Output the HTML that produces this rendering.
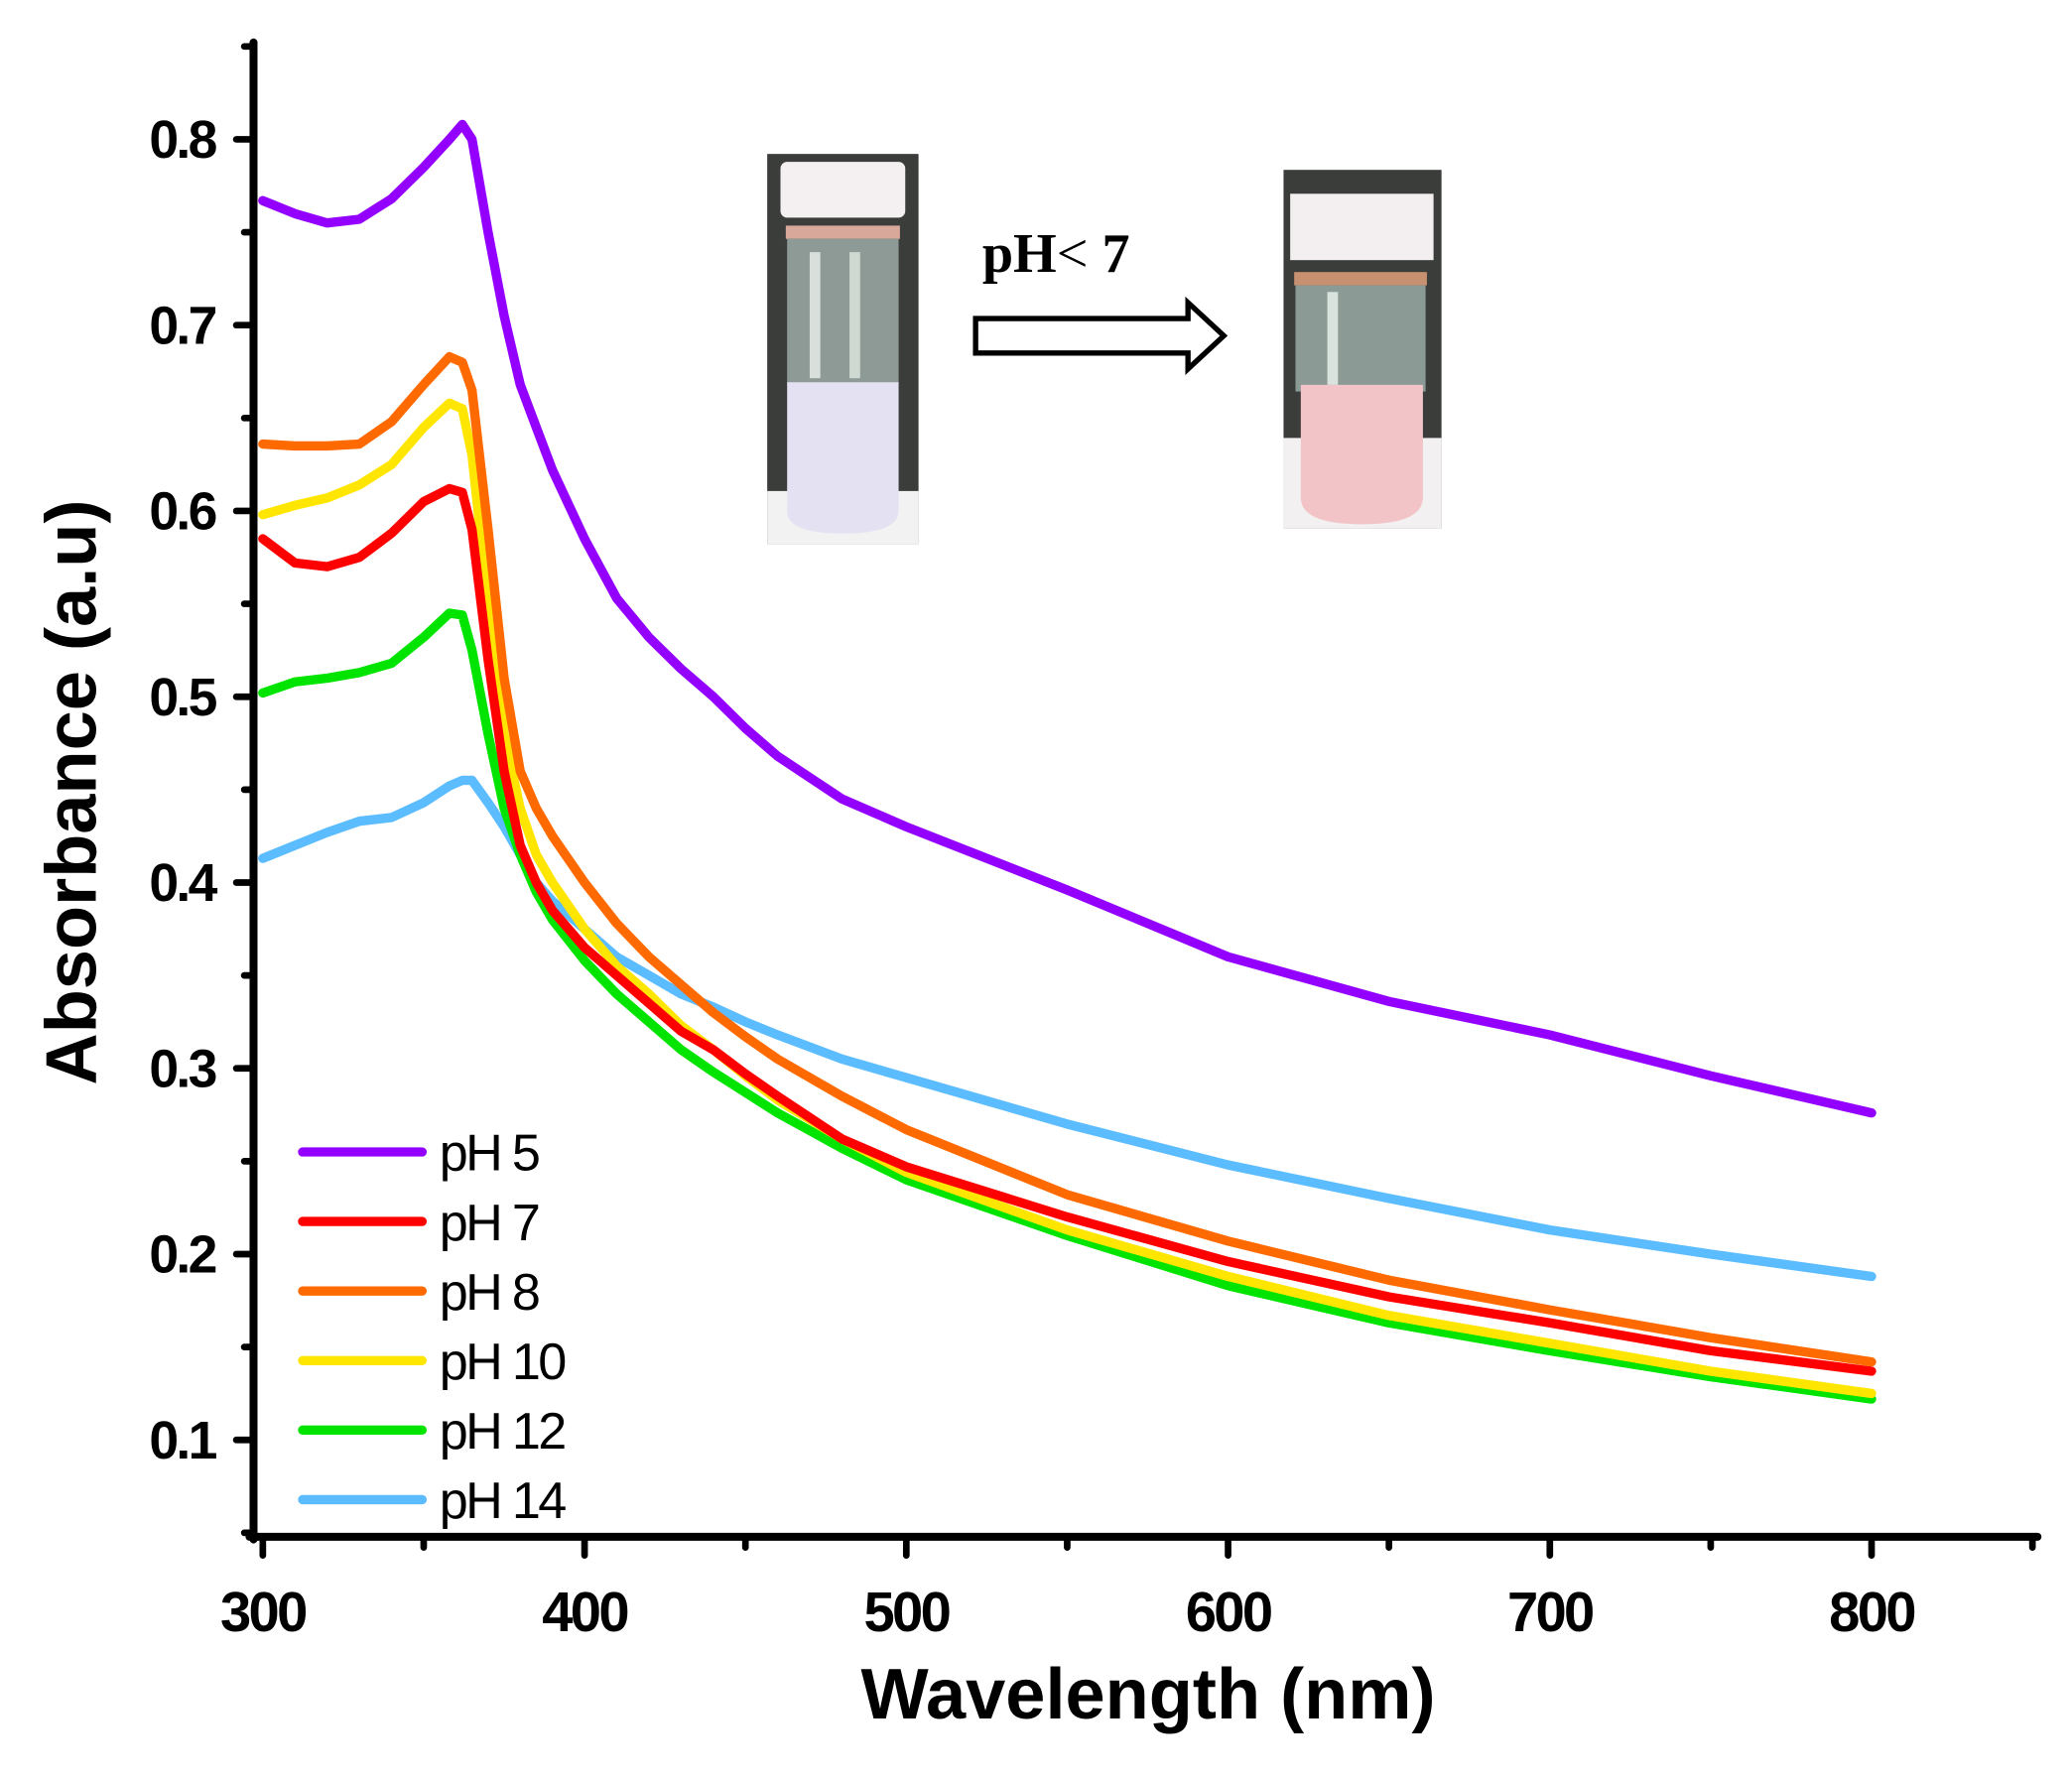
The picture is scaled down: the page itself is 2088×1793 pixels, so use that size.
<!DOCTYPE html>
<html><head><meta charset="utf-8"><style>
html,body{margin:0;padding:0;background:#fff}
svg{display:block}
</style></head><body>
<svg id="chart" width="2088" height="1793" viewBox="0 0 1561 1340.5" preserveAspectRatio="none" xmlns="http://www.w3.org/2000/svg">
<rect width="1561" height="1341" fill="#fff"/>
<g id="inset">
  <g>
    <rect x="578" y="116" width="114" height="294" fill="#3a3d3a"/>
    <rect x="578" y="370" width="114" height="40" fill="#f2f2f2"/>
    <rect x="588" y="122" width="94" height="42" rx="5" fill="#f4f0f2"/>
    <rect x="592" y="170" width="86" height="10" fill="#d8a89a"/>
    <rect x="593" y="180" width="84" height="110" fill="#8e9a96"/>
    <rect x="610" y="190" width="8" height="95" fill="#d9e0dc"/>
    <rect x="640" y="190" width="8" height="95" fill="#d0d8d2"/>
    <path d="M593 288 H677 V385 Q677 402 635 402 Q593 402 593 385 Z" fill="#e4e2f2"/>
  </g>
  <g>
    <rect x="967" y="128" width="119" height="270" fill="#3a3d3a"/>
    <rect x="967" y="330" width="119" height="68" fill="#f2f0f0"/>
    <rect x="972" y="146" width="108" height="50" fill="#f3eff1"/>
    <rect x="975" y="205" width="100" height="10" fill="#c79070"/>
    <rect x="976" y="215" width="98" height="80" fill="#8c9a96"/>
    <rect x="1000" y="220" width="8" height="70" fill="#d9e2dc"/>
    <path d="M980 290 H1072 V375 Q1072 395 1026 395 Q980 395 980 375 Z" fill="#f2c4c8"/>
  </g>
  <text x="740" y="205" font-family="'Liberation Serif',serif" font-weight="bold" font-size="42">pH<tspan font-weight="normal">&lt;</tspan>  7</text>
  <path d="M735 240 H895 V228 L922 253 L895 278 V266 H735 Z" fill="#fff" stroke="#000" stroke-width="4"/>
</g>
<g id="axes"></g>
<g id="series"></g>
<g id="legend"></g>
<text x="865" y="1295" text-anchor="middle" font-family="'Liberation Sans',sans-serif" font-weight="bold" font-size="54">Wavelength (nm)</text>
<text transform="translate(72,597) rotate(-90)" text-anchor="middle" font-family="'Liberation Sans',sans-serif" font-weight="bold" font-size="54">Absorbance (a.u)</text>
</svg>
<script>
const wavelengths=[300,310,320,330,340,350,358,362,365,370,375,380,385,390,400,410,420,430,440,450,460,480,500,550,600,650,700,750,800];
const seriesNames=["pH 5","pH 7","pH 8","pH 10","pH 12","pH 14"];
const seriesColors=["#9400ff","#ff0000","#ff6a00","#ffe600","#00e400","#5bbcff"];
const pH5=[0.767,0.760,0.755,0.757,0.768,0.785,0.800,0.808,0.800,0.750,0.705,0.668,0.645,0.622,0.585,0.553,0.532,0.515,0.500,0.483,0.468,0.445,0.430,0.396,0.360,0.336,0.318,0.296,0.276];
const pH7=[0.585,0.572,0.570,0.575,0.588,0.605,0.612,0.610,0.590,0.520,0.460,0.420,0.400,0.385,0.365,0.350,0.335,0.320,0.310,0.297,0.285,0.262,0.247,0.220,0.196,0.177,0.163,0.148,0.137];
const pH8=[0.636,0.635,0.635,0.636,0.648,0.668,0.683,0.680,0.665,0.590,0.510,0.460,0.440,0.425,0.400,0.378,0.360,0.345,0.330,0.317,0.305,0.285,0.267,0.232,0.207,0.186,0.170,0.155,0.142];
const pH10=[0.598,0.603,0.607,0.614,0.625,0.645,0.658,0.655,0.630,0.550,0.480,0.440,0.415,0.400,0.375,0.355,0.340,0.323,0.310,0.296,0.283,0.262,0.244,0.213,0.188,0.167,0.152,0.137,0.125];
const pH12=[0.502,0.508,0.510,0.513,0.518,0.532,0.545,0.544,0.525,0.480,0.440,0.415,0.395,0.380,0.358,0.340,0.325,0.310,0.298,0.287,0.276,0.257,0.240,0.210,0.183,0.163,0.148,0.134,0.122];
const pH14=[0.413,0.420,0.427,0.433,0.435,0.443,0.452,0.455,0.455,0.443,0.430,0.415,0.400,0.390,0.375,0.360,0.350,0.340,0.333,0.325,0.318,0.305,0.295,0.270,0.248,0.230,0.213,0.200,0.188];
const allSeries=[pH5,pH7,pH8,pH10,pH12,pH14];
const xTickLabels=["300","400","500","600","700","800"];
const yTickLabels=["0.1","0.2","0.3","0.4","0.5","0.6","0.7","0.8"];

const NS="http://www.w3.org/2000/svg";
const xs=v=>198+(v-300)*(1410-198)/500;
const ys=v=>105+(0.8-v)*1400;
function mk(tag,attrs,parent){const e=document.createElementNS(NS,tag);for(const k in attrs)e.setAttribute(k,attrs[k]);parent.appendChild(e);return e;}
const axes=document.getElementById('axes');
let e=mk('line',{x1:191,y1:32,x2:191,y2:1160,stroke:'#000','stroke-width':6,'stroke-linecap':'round'},axes);


e=mk('line',{x1:188,y1:1158,x2:1535,y2:1158,stroke:'#000','stroke-width':6,'stroke-linecap':'round'},axes);


for(let v=0.05;v<=0.86;v+=0.05){
  const major=Math.abs(v*10-Math.round(v*10))<1e-6;
  const y=ys(v);
  e=mk('line',{x1:major?178:184,y1:y,x2:191,y2:y,stroke:'#000','stroke-width':5,'stroke-linecap':'round'},axes);
  
  
}
yTickLabels.forEach(t=>{
  e=mk('text',{x:162,y:ys(parseFloat(t))+14,'text-anchor':'end','font-family':"'Liberation Sans',sans-serif",'font-weight':'bold','font-size':40,'letter-spacing':'-2'},axes);
  e.textContent=t;
  
  
});
for(let v=300;v<=850;v+=50){
  const major=v%100===0;
  const x=xs(v);
  e=mk('line',{x1:x,y1:1158,x2:x,y2:major?1172:1166,stroke:'#000','stroke-width':5,'stroke-linecap':'round'},axes);
  
  
}
xTickLabels.forEach(t=>{
  e=mk('text',{x:xs(parseFloat(t)),y:1229,'text-anchor':'middle','font-family':"'Liberation Sans',sans-serif",'font-weight':'bold','font-size':42,'letter-spacing':'-2'},axes);
  e.textContent=t;
  
  
});
const sg=document.getElementById('series');
const order=[5,4,3,1,2,0];
order.forEach(i=>{
  const pts=wavelengths.map((w,j)=>xs(w).toFixed(1)+','+ys(allSeries[i][j]).toFixed(1)).join(' ');
  const p=mk('polyline',{points:pts,fill:'none',stroke:seriesColors[i],'stroke-width':7,'stroke-linejoin':'round','stroke-linecap':'round'},sg);
  
  
});
const lg=document.getElementById('legend');
seriesNames.forEach((n,i)=>{
  const y=868+i*52.4;
  const l=mk('line',{x1:228,y1:y,x2:318,y2:y,stroke:seriesColors[i],'stroke-width':7,'stroke-linecap':'round'},lg);
  
  
  const t=mk('text',{x:331,y:y+14,'font-family':"'Liberation Sans',sans-serif",'font-size':39,'letter-spacing':'-2'},lg);
  t.textContent=n;
  
  
});
</script>
</body></html>
